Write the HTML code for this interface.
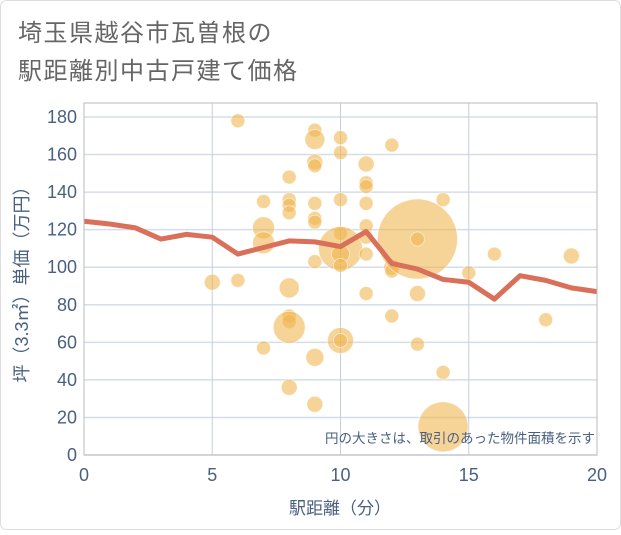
<!DOCTYPE html>
<html><head><meta charset="utf-8"><style>
body{margin:0;background:#fff;}
svg text{font-family:"Liberation Sans","Noto Sans CJK JP",sans-serif;}
</style></head><body>
<svg width="621" height="530" id="c">
<rect x="0.5" y="0.5" width="620" height="529" rx="6" fill="#fff" stroke="#ddd"/>
<text x="18" y="41" font-size="24" letter-spacing="1.5" fill="#666">埼玉県越谷市瓦曽根の</text>
<text x="18" y="79" font-size="24" letter-spacing="1.5" fill="#666">駅距離別中古戸建て価格</text>
<text transform="translate(28,280) rotate(-90)" text-anchor="middle" font-size="18" fill="#4a6080">坪（3.3㎡）単価（万円）</text>
<text x="340" y="514" text-anchor="middle" font-size="17" fill="#4a6080">駅距離（分）</text>
<g id="grid"></g><g id="bub"></g><g id="ln"></g>
<rect x="84" y="103" width="513" height="352" fill="none" stroke="#bbb"/>
<text x="595" y="443" text-anchor="end" font-size="13.5" fill="#4a6080">円の大きさは、取引のあった物件面積を示す</text>
</svg>
<script>
const xTicks=[0,5,10,15,20];
const yTicks=[0,20,40,60,80,100,120,140,160,180];
const lineX=[0,1,2,3,4,5,6,7,8,9,10,11,12,13,14,15,16,17,18,19,20];
const lineY=[124.5,123,121,115,117.5,116,107,110.5,114,113.5,111,119,102,99,93.5,92,83,95.5,93,89,87];
const bubX=[6,5,6,7,7,7,7,8,8,8,8,8,8,8,8,8,9,9,9,9,9,9,9,9,9,9,10,10,10,10,10,10,10,10,10,11,11,11,11,11,11,11,11,12,12,12,12,13,13,13,13,14,14,14,15,16,18,19];
const bubY=[178,92,93,135,121,113,57,148,136,133,129,89,74,71,68,36,173,168,156,154,134,126,124,103,52,27,169,161,136,118,110,107,101,61,61,155,145,143,134,122,116,107,86,165,100,98,74,115,115,86,59,136,44,15,97,107,72,106];
const bubS=[7,8,7,7,11,11,7,7,7,7,7,10,7,7,16,8,7,10,8,7,7,7,7,7,9,8,7,7,7,7,22,9,7,13,7,8,7,7,7,7,7,7,7,7,8,7,7,40,7,8,7,7,7,25,7,7,7,8];
const X=v=>84+v*(513/20), Y=v=>455-v*(338/180);
const NS="http://www.w3.org/2000/svg";
const g=document.getElementById('grid'),b=document.getElementById('bub'),l=document.getElementById('ln');
function mk(t,a,p){const e=document.createElementNS(NS,t);for(const k in a)e.setAttribute(k,a[k]);p.appendChild(e);return e;}
yTicks.forEach(v=>{
 const e=mk('line',{x1:84,x2:597,y1:Y(v),y2:Y(v),stroke:'#d5dde8','stroke-width':1.5},g);
 
 
 const t=mk('text',{x:77,y:Y(v)+6,'text-anchor':'end','font-size':18,fill:'#4a6080'},g);t.textContent=v;
 
 
});
xTicks.forEach(v=>{
 if(v>0&&v<20){const e=mk('line',{x1:X(v),x2:X(v),y1:103,y2:455,stroke:'#c5cfdc','stroke-width':1},g);
 
 }
 const t=mk('text',{x:X(v),y:481,'text-anchor':'middle','font-size':18,fill:'#4a6080'},g);t.textContent=v;
 
 
});
bubX.forEach((x,i)=>{
 const c=mk('circle',{cx:X(x),cy:Y(bubY[i]),r:bubS[i],fill:'#f0b550','fill-opacity':0.6,stroke:'#fff','stroke-opacity':0.5},b);
 
 
});
const p=mk('polyline',{points:lineX.map((x,i)=>X(x)+','+Y(lineY[i])).join(' '),fill:'none',stroke:'#d9705a','stroke-width':5,'stroke-linejoin':'round'},l);


</script>
</body></html>
